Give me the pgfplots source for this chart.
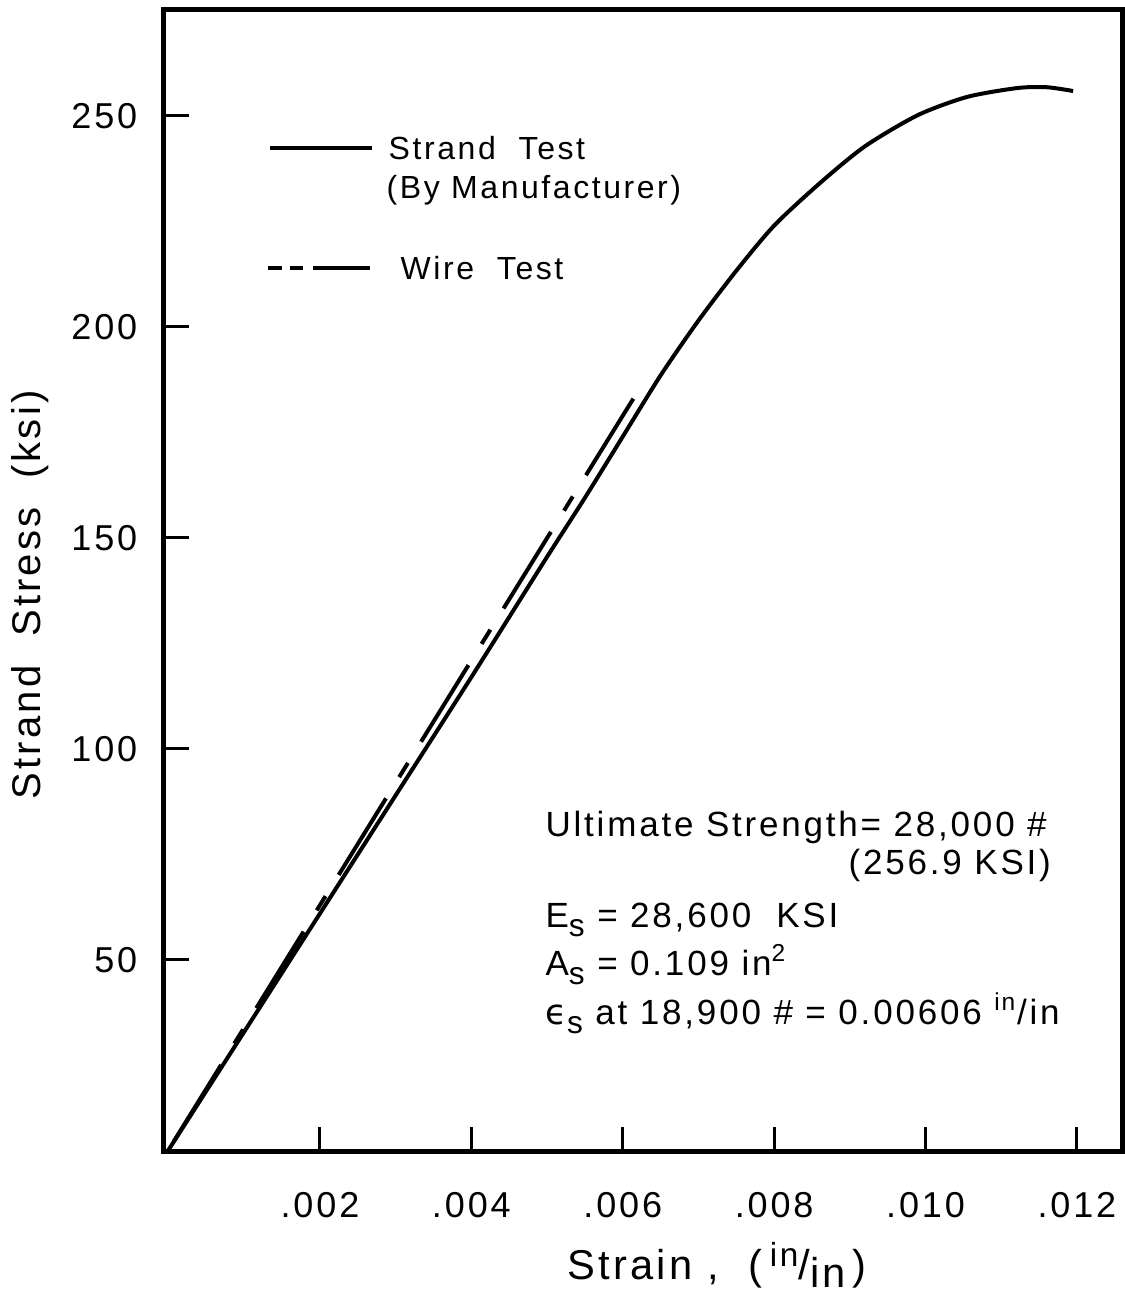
\documentclass[border=0pt]{standalone}
\usepackage{fontspec}
\setmainfont{Liberation Sans}[LetterSpace=8]
\newfontfamily\dejavu{DejaVu Sans}[LetterSpace=8]
\usepackage{pgfplots}
\pgfplotsset{compat=1.18}
\newcommand{\sub}[1]{\raisebox{-0.5ex}{\fontsize{9.5}{10}\selectfont #1}}
\begin{document}
\begin{tikzpicture}
\begin{axis}[
  scale only axis,
  width=287.4pt, height=342.6pt,
  xmin=-0.00006, xmax=0.012596,
  ymin=4.5, ymax=275.1,
  axis line style={line width=1.5pt},
  tick align=inside,
  xtick pos=bottom, ytick pos=left,
  scaled ticks=false,
  xtick={0.002,0.004,0.006,0.008,0.010,0.012},
  xticklabels={\mbox{.002},\mbox{.004},\mbox{.006},\mbox{.008},\mbox{.010},\mbox{.012}},
  ytick={50,100,150,200,250},
  yticklabels={\mbox{50},\mbox{100},\mbox{150},\mbox{200},\mbox{250}},
  major tick length=7.5pt,
  every tick/.style={black, line width=0.9pt},
  xticklabel style={font=\fontsize{10.8}{12}\selectfont, yshift=-8.5pt},
  yticklabel style={font=\fontsize{10.8}{12}\selectfont, xshift=-4.5pt},
  clip=false,
]
% Strand test (manufacturer)
\addplot[black, line width=1.2pt, smooth, tension=0.45] coordinates {
(0,5) (0.0010,33) (0.0020,61) (0.0030,89) (0.0040,117) (0.0050,145.5)
(0.0055,159.5) (0.0060,174) (0.0065,188.5) (0.0070,201.5) (0.0075,213.3)
(0.0080,224) (0.0086,234) (0.0092,242.8) (0.0099,250.2) (0.01055,254.5)
(0.01121,256.6) (0.01160,256.8) (0.01195,255.9)};
% Wire test
\addplot[black, line width=1.2pt, dash pattern=on 27pt off 7.5pt on 5pt off 7.5pt]
  coordinates {(0.00614,183) (0,5)};
% legend samples
\addplot[black, line width=1pt, forget plot] coordinates {(0.001339,242.4) (0.002687,242.4)};
\addplot[black, line width=1pt, forget plot] coordinates {(0.001316,214) (0.001498,214)};
\addplot[black, line width=1pt, forget plot] coordinates {(0.001604,214) (0.001776,214)};
\addplot[black, line width=1pt, forget plot] coordinates {(0.001908,214) (0.002661,214)};
\node[anchor=west, inner sep=0pt, font=\fontsize{9.6}{11}\selectfont] at (axis cs:0.002900,242.4) {Strand\ \ Test};
\node[anchor=west, inner sep=0pt, font=\fontsize{9.6}{11}\selectfont] at (axis cs:0.002873,232.5) {(By Manufacturer)};
\node[anchor=west, inner sep=0pt, font=\fontsize{9.6}{11}\selectfont] at (axis cs:0.003057,214.0) {Wire\ \ Test};
% annotations
\node[anchor=west, inner sep=0pt, font=\fontsize{10.5}{12}\selectfont] at (axis cs:0.004972,81.3) {Ultimate Strength= 28,000 \#};
\node[anchor=west, inner sep=0pt, font=\fontsize{10.5}{12}\selectfont] at (axis cs:0.008976,72.5) {(256.9 KSI)};
\node[anchor=base west, inner sep=0pt, font=\fontsize{10.5}{12}\selectfont] at (axis cs:0.004972,57.8) {E\sub{s} = 28,600\ \ KSI};
\node[anchor=base west, inner sep=0pt, font=\fontsize{10.5}{12}\selectfont] at (axis cs:0.004972,46.4) {A\sub{s} = 0.109 in\textsuperscript{2}};
\node[anchor=base west, inner sep=0pt, font=\fontsize{10.5}{12}\selectfont] at (axis cs:0.004972,34.8) {{\dejavu ϵ}\sub{s} at 18,900 \# = 0.00606 \textsuperscript{in}/in};
% axis labels
\node[font=\fontsize{12.5}{14}\selectfont] at (axis cs:0.007244,-22.3) {Strain\ ,\ \ (\,\raisebox{0.6ex}{\fontsize{10}{11}\selectfont in}/\raisebox{-0.35ex}{in}\,)};
\node[rotate=90, font=\fontsize{12}{14}\selectfont] at (axis cs:-0.001831,136.5) {Strand\ \ Stress\ \ (ksi)};
\end{axis}
\pgfresetboundingbox
\path ([xshift=-49.2pt,yshift=-42pt]current axis.south west) rectangle ([xshift=0.6pt,yshift=3pt]current axis.north east);
\end{tikzpicture}
\end{document}
